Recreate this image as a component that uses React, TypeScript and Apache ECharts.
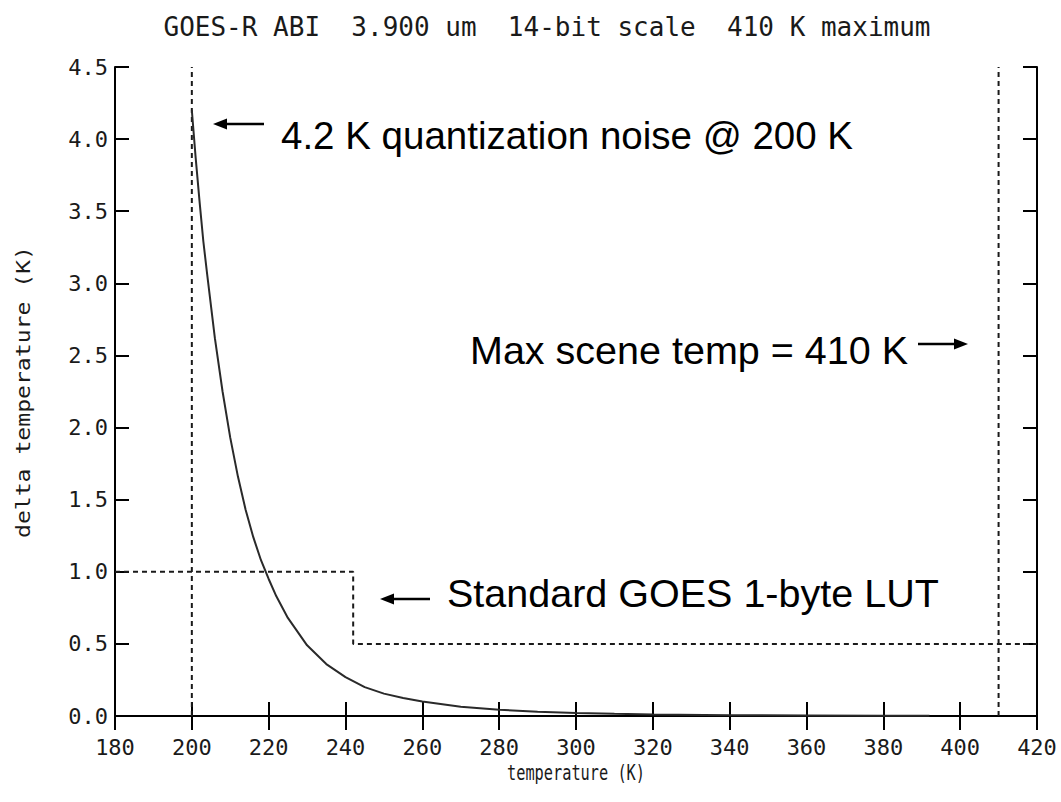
import React, { useEffect, useRef } from 'react';
import * as echarts from 'echarts';

// Quantization noise curve
const temps = [200, 201, 202, 203, 204, 206, 208, 210, 212, 214, 216, 218, 220, 222, 225, 230, 235, 240, 245, 250, 255, 260, 270, 280, 290, 300, 310, 320, 340, 360, 380, 392];
const deltaT = [4.2, 3.87, 3.57, 3.29, 3.06, 2.62, 2.25, 1.93, 1.66, 1.43, 1.24, 1.08, 0.95, 0.83, 0.68, 0.49, 0.36, 0.27, 0.2, 0.155, 0.125, 0.1, 0.064, 0.043, 0.029, 0.02, 0.015, 0.011, 0.006, 0.004, 0.0025, 0.002];

// Standard GOES 1-byte LUT step
const lutT = [180, 242, 242, 420];
const lutV = [1.0, 1.0, 0.5, 0.5];

// Vertical reference lines
const refTemps = [200, 410];

const xMin = 180;
const xMax = 420;
const xStep = 20;
const yMin = 0;
const yMax = 4.5;
const yStep = 0.5;

const titleText = 'GOES-R ABI\u00A0 3.900 um\u00A0 14-bit scale\u00A0 410 K maximum';
const xName = 'temperature (K)';
const yName = 'delta temperature (K)';
const note1 = '4.2 K quantization noise @ 200 K';
const note2 = 'Max scene temp = 410 K';
const note3 = 'Standard GOES 1-byte LUT';

const INK = '#1a1a1a';
const MONO = '"DejaVu Sans Mono", monospace';
const SANS = '"Liberation Sans", Arial, sans-serif';

function arrow(x1: number, x2: number, y: number, headLeft: boolean) {
  const head = headLeft ? Math.min(x1, x2) : Math.max(x1, x2);
  const tail = headLeft ? Math.max(x1, x2) : Math.min(x1, x2);
  const d = headLeft ? 1 : -1;
  return [
    {
      type: 'line',
      shape: { x1: tail, y1: y, x2: head + d * 8, y2: y },
      style: { stroke: '#000', lineWidth: 2.5 },
    },
    {
      type: 'polygon',
      shape: { points: [[head, y], [head + d * 14, y - 5.5], [head + d * 14, y + 5.5]] },
      style: { fill: '#000' },
    },
  ];
}

export default function App() {
  const ref = useRef<HTMLDivElement>(null);
  useEffect(() => {
    if (!ref.current) return;
    const chart = echarts.init(ref.current, null, { renderer: 'svg' });
    const curve = temps.map((t, i) => [t, deltaT[i]]);
    const lut = lutT.map((t, i) => [t, lutV[i]]);
    const dashed = { color: INK, width: 2, type: [5, 4] as number[] };
    const axisCommon = {
      axisLine: { show: true, lineStyle: { color: '#000', width: 2 } },
      axisTick: { show: true, inside: true, length: 14, lineStyle: { color: '#000', width: 2 } },
      splitLine: { show: false },
    };
    chart.setOption({
      animation: false,
      backgroundColor: '#fff',
      grid: { left: 115, right: 24, top: 67, bottom: 86, containLabel: false },
      xAxis: [
        {
          type: 'value',
          min: xMin,
          max: xMax,
          interval: xStep,
          position: 'bottom',
          axisLabel: { fontFamily: MONO, fontSize: 22, color: INK, margin: 20 },
          ...axisCommon,
        },
        {
          type: 'value',
          min: xMin,
          max: xMax,
          interval: xStep,
          position: 'top',
          axisLabel: { show: false },
          ...axisCommon,
        },
      ],
      yAxis: [
        {
          type: 'value',
          min: yMin,
          max: yMax,
          interval: yStep,
          position: 'left',
          axisLabel: {
            fontFamily: MONO,
            fontSize: 22,
            color: INK,
            margin: 7,
            formatter: (v: number) => v.toFixed(1),
          },
          ...axisCommon,
        },
        {
          type: 'value',
          min: yMin,
          max: yMax,
          interval: yStep,
          position: 'right',
          axisLabel: { show: false },
          ...axisCommon,
        },
      ],
      series: [
        {
          type: 'line',
          data: curve,
          symbol: 'none',
          smooth: false,
          lineStyle: { color: '#2a2a2a', width: 2 },
          z: 3,
        },
        {
          type: 'line',
          data: lut,
          symbol: 'none',
          lineStyle: dashed,
          z: 2,
        },
        ...refTemps.map((t) => ({
          type: 'line',
          data: [[t, yMin], [t, yMax]],
          symbol: 'none',
          lineStyle: dashed,
          z: 2,
        })),
      ],
      graphic: [
        {
          type: 'text',
          x: 547,
          y: 27,
          style: {
            text: titleText,
            fontFamily: MONO,
            fontSize: 26,
            fill: INK,
            align: 'center',
            verticalAlign: 'middle',
          },
        },
        {
          type: 'text',
          x: 576,
          y: 773,
          scaleX: 0.9,
          scaleY: 1.25,
          style: {
            text: xName,
            fontFamily: MONO,
            fontSize: 17,
            fill: INK,
            align: 'center',
            verticalAlign: 'middle',
          },
        },
        {
          type: 'text',
          x: 23,
          y: 392,
          rotation: Math.PI / 2,
          scaleX: 1.36,
          scaleY: 1.15,
          style: {
            text: yName,
            fontFamily: MONO,
            fontSize: 17,
            fill: INK,
            align: 'center',
            verticalAlign: 'middle',
          },
        },
        {
          type: 'text',
          x: 281,
          y: 135,
          style: { text: note1, fontFamily: SANS, fontSize: 38.5, fill: '#000', align: 'left', verticalAlign: 'middle' },
        },
        {
          type: 'text',
          x: 470,
          y: 350,
          style: { text: note2, fontFamily: SANS, fontSize: 39.5, fill: '#000', align: 'left', verticalAlign: 'middle' },
        },
        {
          type: 'text',
          x: 447,
          y: 593,
          style: { text: note3, fontFamily: SANS, fontSize: 39.5, fill: '#000', align: 'left', verticalAlign: 'middle' },
        },
        ...arrow(213, 264, 124, true),
        ...arrow(918, 968, 344, false),
        ...arrow(380, 430, 599, true),
      ],
    });
    return () => chart.dispose();
  }, []);
  return (
    <div
      ref={ref}
      style={{ position: 'fixed', left: 0, top: 0, width: 1061, height: 802, background: '#fff' }}
    />
  );
}
